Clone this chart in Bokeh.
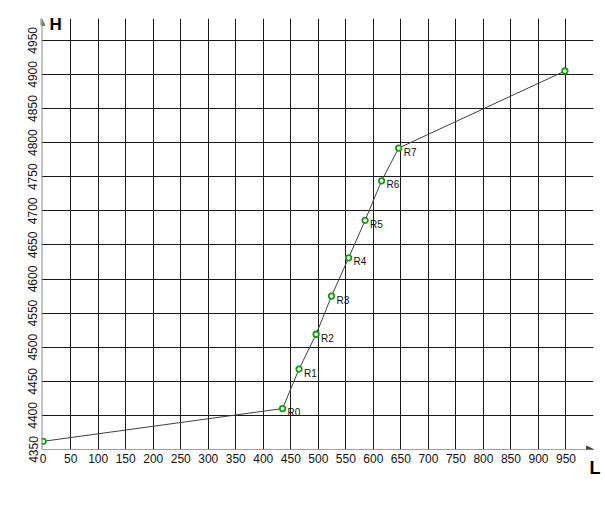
from bokeh.plotting import figure
from bokeh.models import Range1d, FixedTicker, Arrow, NormalHead, Title, ColumnDataSource, LabelSet
from bokeh.core.properties import value
from bokeh.embed import file_html
from bokeh.resources import INLINE

# data
L_vals = [0, 435, 465, 496, 524, 555, 585, 615, 646, 948]
H_vals = [4362, 4410, 4468, 4519, 4575, 4631, 4686, 4744, 4792, 4905]
point_names = ["", "R0", "R1", "R2", "R3", "R4", "R5", "R6", "R7", ""]
x_ticks = list(range(0, 951, 50))
y_ticks = list(range(4350, 4951, 50))

FONT = "Liberation Sans"

p = figure(width=603, height=506, output_backend="svg", toolbar_location=None,
           x_range=Range1d(-3, 1000), y_range=Range1d(4350, 4982))
p.min_border_left = 41
p.min_border_right = 10
p.min_border_top = 18
p.min_border_bottom = 57
p.outline_line_color = None
p.background_fill_color = "white"
p.border_fill_color = "white"

p.xaxis.ticker = FixedTicker(ticks=x_ticks)
p.yaxis.ticker = FixedTicker(ticks=y_ticks)
p.xgrid.ticker = FixedTicker(ticks=x_ticks[1:])
p.ygrid.ticker = FixedTicker(ticks=y_ticks[1:])
for g in (p.xgrid, p.ygrid):
    g.grid_line_color = "#1a1a1a"
    g.grid_line_width = 1
    g.grid_line_alpha = 1

for ax in (p.xaxis, p.yaxis):
    ax.axis_line_color = None
    ax.major_tick_line_color = None
    ax.minor_tick_line_color = None
    ax.major_tick_out = 0
    ax.major_tick_in = 0
    ax.major_label_text_font = FONT
    ax.major_label_text_font_size = "12px"
    ax.major_label_text_color = "#111111"
p.xaxis.major_label_standoff = 4
p.yaxis.major_label_standoff = 4
p.yaxis.major_label_orientation = "vertical"

# axis arrows
p.add_layout(Arrow(end=NormalHead(size=7, fill_color="#777777", line_color="#777777"),
                   x_start=-3, y_start=4350, x_end=-3, y_end=4982,
                   line_color="#888888", line_width=2))
p.add_layout(Arrow(end=NormalHead(size=7, fill_color="#444444", line_color="#444444"),
                   x_start=-3, y_start=4350, x_end=1000, y_end=4350,
                   line_color="#444444", line_width=1.2))

src = ColumnDataSource(dict(x=L_vals, y=H_vals, name=point_names))
p.line("x", "y", source=src, line_color="#404040", line_width=1)
p.scatter("x", "y", source=src, size=5.5, line_color="#159a15", fill_color="#f4fff4", line_width=1.8)
p.add_layout(LabelSet(x="x", y="y", text="name", source=src, x_offset=5, y_offset=-4,
                      text_font=value(FONT), text_font_size="10px", text_color="#111111",
                      text_baseline="middle"))

p.add_layout(Title(text="H", align="left", offset=8, standoff=-30,
                   text_font=FONT, text_font_size="17px", text_font_style="bold",
                   text_color="black"), "above")
p.add_layout(Title(text="L", align="right", offset=-7, standoff=-20,
                   text_font=FONT, text_font_size="18px", text_font_style="bold",
                   text_color="black"), "below")

open("out.html", "w").write(file_html(p, INLINE))
